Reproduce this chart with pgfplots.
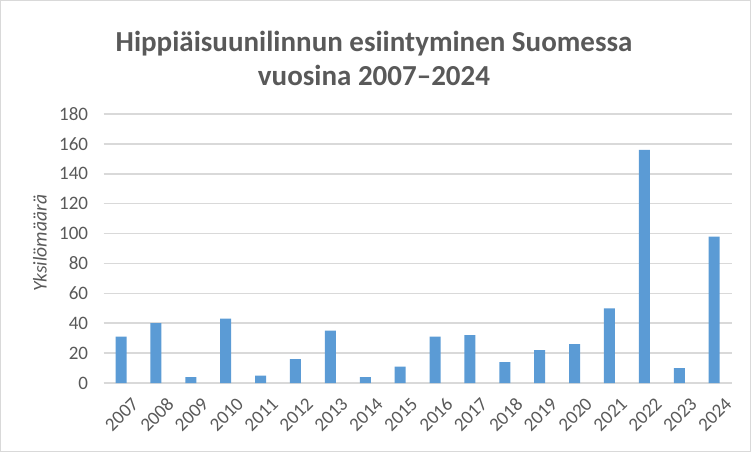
\documentclass[border=0pt]{standalone}
\usepackage{pgfplots}
\pgfplotsset{compat=1.18}
\usepackage{fontspec}
\setmainfont{Carlito}
\definecolor{txtgray}{HTML}{595959}
\definecolor{gridgray}{HTML}{D9D9D9}
\definecolor{barblue}{HTML}{5B9BD5}

\begin{document}
\begin{tikzpicture}
% chart frame, 751 x 452
\draw[gridgray, line width=1pt] (0.5pt,0.5pt) rectangle (750.5pt,451.5pt);
\node[align=center, text=txtgray, font=\fontsize{29}{34}\selectfont\bfseries]
  at (374pt,394pt) {Hippiäisuunilinnun esiintyminen Suomessa\\vuosina 2007--2024};
\begin{axis}[
    at={(103.6pt,69pt)}, anchor=south west,
    scale only axis,
    width=628pt, height=269pt,
    ybar, bar width=11pt,
    xmin=-0.5, xmax=17.5,
    ymin=0, ymax=180,
    ytick={0,20,...,180},
    xtick={0,...,17},
    xticklabels={2007,2008,2009,2010,2011,2012,2013,2014,2015,2016,2017,2018,2019,2020,2021,2022,2023,2024},
    major tick length=0pt,
    axis y line*=left, y axis line style={draw=none},
    axis x line*=bottom, x axis line style={gridgray, line width=1.5pt},
    ymajorgrids, grid style={gridgray, line width=1.5pt},
    tick label style={text=txtgray, font=\fontsize{19}{19}\selectfont},
    /pgf/number format/assume math mode=true,
    yticklabel style={xshift=-12pt},
    xticklabel style={rotate=45, anchor=north east, xshift=1pt, yshift=-13pt},
    ylabel={Yksilömäärä},
    ylabel style={at={(axis description cs:-0.1013,0.519)}, anchor=center,
      text=txtgray, font=\fontsize{19.5}{19.5}\selectfont\itshape},
]
\addplot[fill=barblue, draw=none] coordinates {
  (0,31) (1,40) (2,4) (3,43) (4,5) (5,16) (6,35) (7,4) (8,11)
  (9,31) (10,32) (11,14) (12,22) (13,26) (14,50) (15,156) (16,10) (17,98)
};
\end{axis}
\end{tikzpicture}
\end{document}
